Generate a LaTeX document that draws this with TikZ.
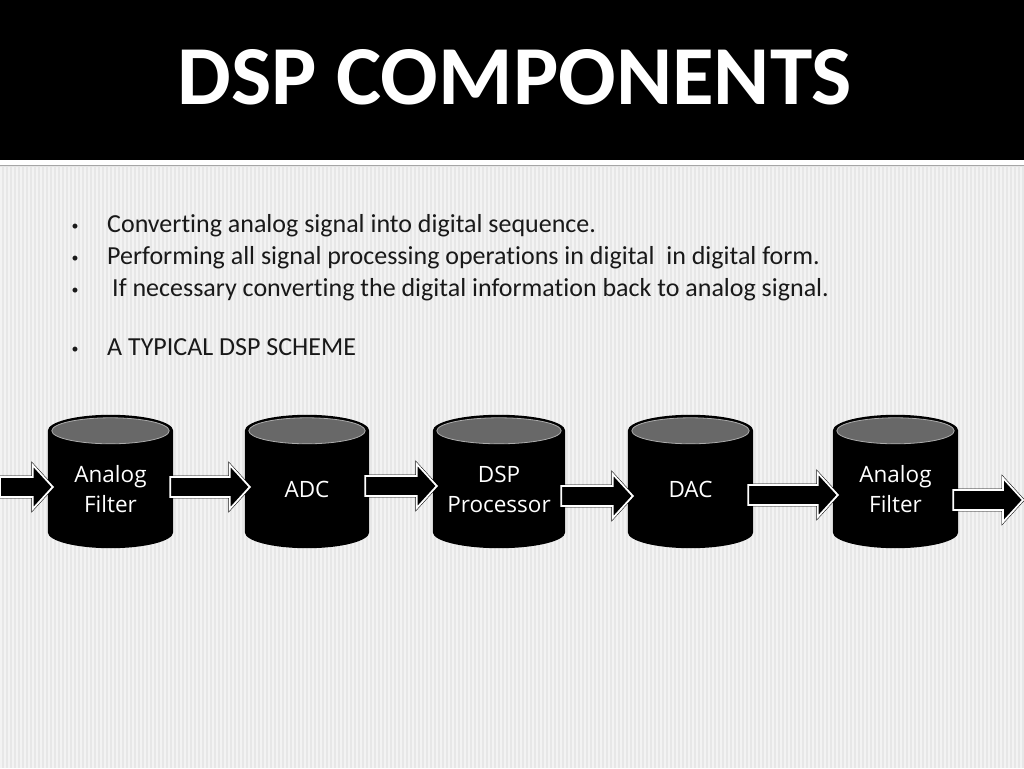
\documentclass[tikz,border=0pt]{standalone}
\usepackage{fontspec}
\setmainfont{Carlito}[Ligatures=NoCommon]
\newfontfamily\labelfont{Open Sans}
\usetikzlibrary{calc, positioning, backgrounds}
\definecolor{fond}{RGB}{231,231,231}
\definecolor{raie}{RGB}{243,243,243}
\definecolor{dessus}{RGB}{104,104,104}
\definecolor{texte}{RGB}{25,25,25}

% block arrow drawn between two points, tip at the second one
\newcommand{\blockarrow}[2]{%
  \path[fleche] let \p1=(#1), \p2=(#2) in
    (\x1,\y2+10) -- (\x2-20,\y2+10) -- (\x2-20,\y2+22) -- (\x2,\y2)
    -- (\x2-20,\y2-22) -- (\x2-20,\y2-10) -- (\x1,\y2-10) -- cycle;}

% cylinder drawn round a named node (body = node, top ellipse at north)
\newcommand{\cylindre}[1]{%
  \fill[black] let \p1=(#1.north west), \p2=(#1.south east),
    \n1={(\x2-\x1)/2} in
    (\x1,\y1) -- (\x1,\y2+16) arc[start angle=180, end angle=360,
    x radius=\n1, y radius=16pt] -- (\x2,\y1) arc[start angle=0,
    end angle=180, x radius=\n1, y radius=16pt] -- cycle;
  \draw[color=gray!65, fill=dessus, line width=0.8pt] let
    \p1=(#1.north west), \p2=(#1.south east), \n1={(\x2-\x1)/2-4} in
    (#1.north) ellipse[x radius=\n1, y radius=13pt];}

\begin{document}
\begin{tikzpicture}[x=1pt, y=1pt,
    bloc/.style={minimum height=117pt, inner sep=0pt, align=center,
      text=white, font=\fontsize{22.5}{30}\selectfont\labelfont},
    puce/.style={anchor=base, text=texte,
      font=\fontsize{14}{16}\selectfont},
    ligne/.style={anchor=base west, inner sep=0pt, text=texte,
      font=\fontsize{26}{30}\selectfont},
    fleche/.style={fill=black, draw=black, line width=0.5pt,
      double=white, double distance=1.8pt, line join=miter}]
  \useasboundingbox (0,0) rectangle (1024,768);
  \node[text=white] (titre) at (515,690.5)
    {\resizebox{674pt}{55pt}{\bfseries DSP COMPONENTS}};

  % bullet list
  \node[puce] (p1) at (75,537) {•};
  \node[ligne] (l1) at (107,535) {Converting analog signal into digital sequence.};
  \node[puce] (p2) at (75,505) {•};
  \node[ligne] (l2) at (107,503) {Performing all signal processing operations in digital\ \ in digital form.};
  \node[puce] (p3) at (75,473) {•};
  \node[ligne] (l3) at (112,471) {If necessary converting the digital information back to analog signal.};
  \node[puce] (p4) at (75,414) {•};
  \node[ligne] (l4) at (107,412) {A TYPICAL DSP SCHEME};

  % the scheme
  \node[bloc, minimum width=125pt] (af1) at (110.5,278.5) {Analog\\Filter};
  \node[bloc, minimum width=124pt] (adc) at (307,278.5) {ADC};
  \node[bloc, minimum width=132pt] (dsp) at (499,278.5) {DSP\\Processor};
  \node[bloc, minimum width=125pt] (dac) at (690.5,278.5) {DAC};
  \node[bloc, minimum width=125pt] (af2) at (895.5,278.5) {Analog\\Filter};
  \coordinate (entree) at (0,281);
  \coordinate (sortie) at (1023,268);

  \begin{pgfonlayer}{background}
    % background
    \fill[color=fond] (0,0) rectangle (1024,608);
    \foreach \x in {1,5,...,1024}
      \draw[color=raie, line width=1.5pt] (\x,0) -- (\x,601);
    \fill[color=black] (0,608) rectangle (1024,768);
    \fill[color=white] (0,608) rectangle (1024,603);
    \draw[color=gray!70, line width=0.8pt] (0,602.5) -- (1024,602.5);
    \foreach \c in {af1,adc,dsp,dac,af2}
      \cylindre{\c};
  \end{pgfonlayer}

  \blockarrow{entree}{$(af1.west)+(5,2.5)$}
  \blockarrow{$(af1.east)+(-3,0)$}{$(adc.west)+(5,2.5)$}
  \blockarrow{$(adc.east)+(-4,0)$}{$(dsp.west)+(4,3.5)$}
  \blockarrow{$(dsp.east)+(-4,0)$}{$(dac.west)+(5,-6.5)$}
  \blockarrow{$(dac.east)+(-5,0)$}{$(af2.west)+(5,-5.5)$}
  \blockarrow{$(af2.east)+(-5,0)$}{sortie}
\end{tikzpicture}
\end{document}
